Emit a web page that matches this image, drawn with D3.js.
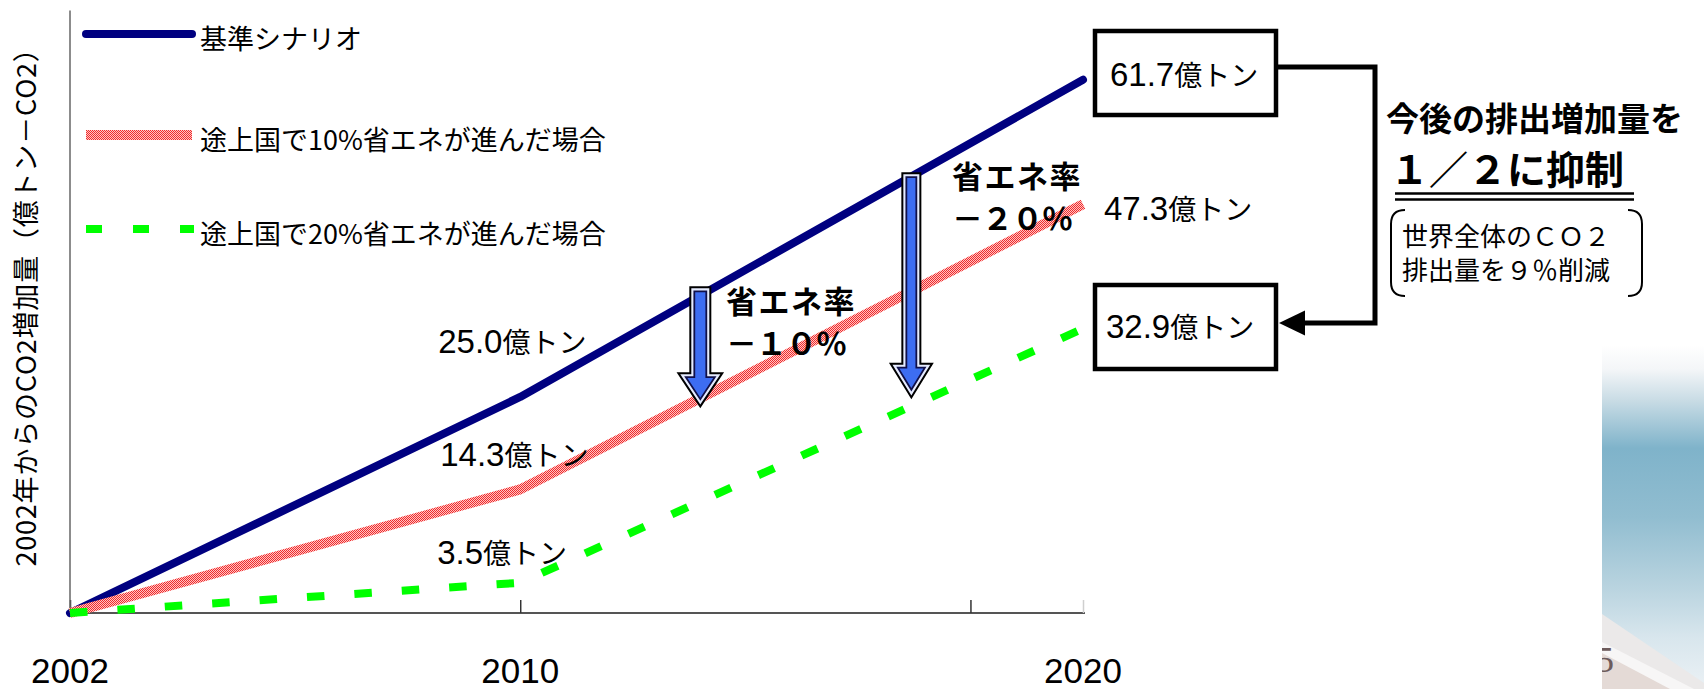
<!DOCTYPE html>
<html>
<head>
<meta charset="utf-8">
<script src="https://cdn.jsdelivr.net/npm/d3@7"></script>
<style>
  html, body { margin: 0; padding: 0; background: #ffffff; }
  svg { display: block; }
</style>
</head>
<body>
<svg id="chart" width="1704" height="689"></svg>
<script>
// ---- data -------------------------------------------------------------
const years      = [2002, 2010, 2020];
const baseCase   = [0, 25.0, 61.7];   // 基準シナリオ
const save10     = [0, 14.3, 47.3];   // 途上国で10%省エネ
const save20     = [0, 3.5, 32.9];    // 途上国で20%省エネ
const seriesNames = ["基準シナリオ", "途上国で10%省エネが進んだ場合", "途上国で20%省エネが進んだ場合"];
const tickYears  = [2002, 2010, 2018, 2020];
const yearLabels = [2002, 2010, 2020];
const yAxisTitle = "2002年からのCO2増加量（億トン－CO2）";
const unitText   = "億トン";
// reduction arrows: year, top value, tip value
const arrowYears = [2013.2, 2016.95];
const arrowTop   = [37.8, 51.0];
const arrowTip   = [23.7, 24.8];
const arrowText  = [["省エネ率", "－１０％"], ["省エネ率", "－２０％"]];
const headline   = ["今後の排出増加量を", "１／２に抑制"];
const noteLines  = ["世界全体のＣＯ２", "排出量を９％削減"];

// ---- setup ------------------------------------------------------------
const svg = d3.select("#chart");
const LATIN = "'Liberation Sans', Arial, 'Noto Sans CJK JP', sans-serif";
const CJK = "'Noto Sans CJK JP', 'Liberation Sans', sans-serif";

const x = d3.scaleLinear().domain([2002, 2020]).range([70, 1083]);
const y = d3.scaleLinear().domain([0, 70]).range([613, 8]);

const defs = svg.append("defs");

// dithered pink-red texture for the 10% line
const pat = defs.append("pattern").attr("id", "redDither")
  .attr("patternUnits", "userSpaceOnUse").attr("width", 2).attr("height", 2);
pat.append("rect").attr("width", 2).attr("height", 2).attr("fill", "#ffc4c4");
pat.append("rect").attr("x", 0).attr("y", 0).attr("width", 1).attr("height", 1).attr("fill", "#f02c2c");
pat.append("rect").attr("x", 1).attr("y", 1).attr("width", 1).attr("height", 1).attr("fill", "#f02c2c");

// slide decoration gradient (bottom right)
const grad = defs.append("linearGradient").attr("id", "deco")
  .attr("x1", 0).attr("y1", 0).attr("x2", 0).attr("y2", 1);
[[0, "#ffffff"], [0.07, "#f4f6f8"], [0.16, "#c9dce5"], [0.3, "#7fb3ca"],
 [0.5, "#91bdd0"], [0.7, "#b8d3df"], [0.85, "#d8e6ed"], [1, "#ebf1f5"]]
  .forEach(([o, c]) => grad.append("stop").attr("offset", o).attr("stop-color", c));
defs.append("clipPath").attr("id", "decoClip")
  .append("rect").attr("x", 1602).attr("y", 345).attr("width", 102).attr("height", 344);

const deco = svg.append("g").attr("clip-path", "url(#decoClip)");
deco.append("rect").attr("x", 1602).attr("y", 345).attr("width", 102).attr("height", 344)
  .attr("fill", "url(#deco)");
deco.append("path").attr("d", "M1602,614 L1704,683 L1704,689 L1602,689 Z").attr("fill", "#ebe9e9");
deco.append("path").attr("d", "M1602,642 L1694,689 L1602,689 Z").attr("fill", "#f7f6f6");
deco.append("path").attr("d", "M1602,653 L1670,689 L1602,689 Z").attr("fill", "#e4dad6");
deco.append("text").attr("x", 1614).attr("y", 672).attr("text-anchor", "end")
  .attr("font-family", "'Liberation Serif', serif").attr("font-size", 36)
  .attr("fill", "#6d5b5b").text("15");

// ---- axes -------------------------------------------------------------
const xAxis = svg.append("g").attr("transform", `translate(0,${y(0)})`)
  .call(d3.axisBottom(x).tickValues(tickYears).tickSize(-13).tickSizeOuter(0).tickFormat(""));
xAxis.select(".domain").attr("stroke", "#555").attr("stroke-width", 2)
  .attr("d", `M${x(2002)},0H${x(2020) + 2}`);
xAxis.selectAll(".tick line").attr("stroke", d => d === 2020 ? "#cfcfcf" : "#333").attr("stroke-width", 1.5);

const yAxis = svg.append("g").attr("transform", `translate(${x(2002)},0)`)
  .call(d3.axisLeft(y).tickValues([]).tickSizeOuter(0));
yAxis.select(".domain").attr("stroke", "#666").attr("stroke-width", 1.5)
  .attr("d", `M0,${y(0)}V${y(69.7)}`);

svg.append("g").selectAll("text").data(yearLabels).join("text")
  .attr("x", d => x(d)).attr("y", 683).attr("text-anchor", "middle")
  .attr("font-family", LATIN).attr("font-size", 35).attr("fill", "#000")
  .text(d => d);

svg.append("text")
  .attr("transform", `translate(36,${(y(0) + 8) / 2 - 10}) rotate(-90)`)
  .attr("text-anchor", "middle").attr("font-family", CJK).attr("font-size", 27)
  .attr("letter-spacing", 0.8)
  .attr("fill", "#000").text(yAxisTitle);

// ---- lines ------------------------------------------------------------
const line = d3.line().x((d, i) => x(years[i])).y(d => y(d));
const series = [
  { values: baseCase, stroke: "#000080", width: 8, dash: null, cap: "round" },
  { values: save10, stroke: "url(#redDither)", width: 10, dash: null, cap: "butt" },
  { values: save20, stroke: "#00ff00", width: 8, dash: "17.5 30", cap: "butt" }
];
svg.append("g").selectAll("path").data(series).join("path")
  .attr("d", d => line(d.values))
  .attr("fill", "none")
  .attr("stroke", d => d.stroke)
  .attr("stroke-width", d => d.width)
  .attr("stroke-dasharray", d => d.dash)
  .attr("stroke-linecap", d => d.cap)
  .attr("stroke-linejoin", "round");

// ---- legend -----------------------------------------------------------
const legendY = [34, 135, 229];
const legend = svg.append("g");
series.forEach((s, i) => {
  legend.append("line")
    .attr("x1", 86).attr("x2", i === 2 ? 194 : 192)
    .attr("y1", legendY[i]).attr("y2", legendY[i])
    .attr("stroke", s.stroke).attr("stroke-width", s.width)
    .attr("stroke-linecap", s.cap)
    .attr("stroke-dasharray", i === 2 ? "16 31" : null);
  legend.append("text").attr("x", 200).attr("y", legendY[i] + 15)
    .attr("font-family", CJK).attr("font-size", 27).attr("fill", "#000")
    .text(seriesNames[i]);
});

// ---- reduction arrows -------------------------------------------------
function arrowPath(cx, top, tip) {
  // outline is inset by the 5px outer border
  const t = top + 5, shaftHalf = (tip - top) > 200 ? 5 : 6, headHalf = shaftHalf + 8.5;
  const tipIn = tip - 9, headY = tipIn - 22;
  return `M${cx - shaftHalf},${t} H${cx + shaftHalf} V${headY} H${cx + headHalf} ` +
         `L${cx},${tipIn} L${cx - headHalf},${headY} H${cx - shaftHalf} Z`;
}
const arrowG = svg.append("g");
arrowYears.forEach((yr, i) => {
  const d = arrowPath(x(yr), y(arrowTop[i]), y(arrowTip[i]));
  arrowG.append("path").attr("d", d).attr("fill", "none").attr("stroke", "#000")
    .attr("stroke-width", 10).attr("stroke-linejoin", "miter");
  arrowG.append("path").attr("d", d).attr("fill", "none").attr("stroke", "#e6ecff")
    .attr("stroke-width", 6).attr("stroke-linejoin", "miter");
  arrowG.append("path").attr("d", d).attr("fill", "#3d6df2").attr("stroke", "#10104a")
    .attr("stroke-width", 1.8).attr("stroke-linejoin", "miter");
});

const arrowLabelPos = [{ x: 726, y1: 313, y2: 355 }, { x: 952, y1: 188, y2: 230 }];
arrowText.forEach((lines, i) => {
  const p = arrowLabelPos[i];
  const t = svg.append("text").attr("font-family", CJK).attr("font-weight", 700)
    .attr("font-size", 31).attr("fill", "#000");
  t.append("tspan").attr("x", p.x).attr("y", p.y1).attr("letter-spacing", 1.5).text(lines[0]);
  t.append("tspan").attr("x", p.x).attr("y", p.y2).attr("letter-spacing", -1).text(lines[1]);
});

// ---- value labels -----------------------------------------------------
function valueLabel(parent, px, py, value) {
  const t = parent.append("text").attr("x", px).attr("y", py).attr("fill", "#000");
  t.append("tspan").attr("font-family", LATIN).attr("font-size", 33).text(value.toFixed(1));
  t.append("tspan").attr("font-family", CJK).attr("font-size", 28).text(unitText);
  return t;
}
const labels = svg.append("g");
valueLabel(labels, x(2010) - 82, y(baseCase[1]) - 44, baseCase[1]);
valueLabel(labels, x(2010) - 80, y(save10[1]) - 23, save10[1]);
valueLabel(labels, x(2010) - 83, y(save20[1]) - 19, save20[1]);
valueLabel(labels, 1110, 86, baseCase[2]);
valueLabel(labels, 1104, 220, save10[2]);
valueLabel(labels, 1106, 338, save20[2]);

// boxes around the 2020 baseline / 20% values
const boxes = svg.append("g").attr("fill", "none").attr("stroke", "#000").attr("stroke-width", 4.5);
boxes.append("rect").attr("x", 1095).attr("y", 31).attr("width", 181).attr("height", 84);
boxes.append("rect").attr("x", 1095).attr("y", 285).attr("width", 181).attr("height", 84);

// elbow connector with arrowhead
svg.append("path").attr("d", "M1278,67 H1375 V323 H1300")
  .attr("fill", "none").attr("stroke", "#000").attr("stroke-width", 5);
svg.append("path").attr("d", "M1279,323 L1305,310.5 L1305,335.5 Z").attr("fill", "#000");

// ---- headline and note ------------------------------------------------
const head = svg.append("text").attr("font-family", CJK).attr("font-weight", 700).attr("fill", "#000");
head.append("tspan").attr("x", 1386).attr("y", 131).attr("font-size", 33).text(headline[0]);
head.append("tspan").attr("x", 1390).attr("y", 184).attr("font-size", 39).text(headline[1]);
const ul = svg.append("g").attr("stroke", "#000").attr("stroke-width", 2.5);
ul.append("line").attr("x1", 1395).attr("x2", 1634).attr("y1", 193.5).attr("y2", 193.5);
ul.append("line").attr("x1", 1395).attr("x2", 1634).attr("y1", 199.5).attr("y2", 199.5);

const br = svg.append("g").attr("fill", "none").attr("stroke", "#000").attr("stroke-width", 2);
br.append("path").attr("d", "M1405,210 Q1391,210 1391,224 V282 Q1391,296 1405,296");
br.append("path").attr("d", "M1628,210 Q1642,210 1642,224 V282 Q1642,296 1628,296");
const note = svg.append("text").attr("font-family", CJK).attr("font-size", 26).attr("fill", "#000");
noteLines.forEach((s, i) => {
  note.append("tspan").attr("x", 1402).attr("y", [246, 280][i]).text(s);
});
</script>
</body>
</html>
